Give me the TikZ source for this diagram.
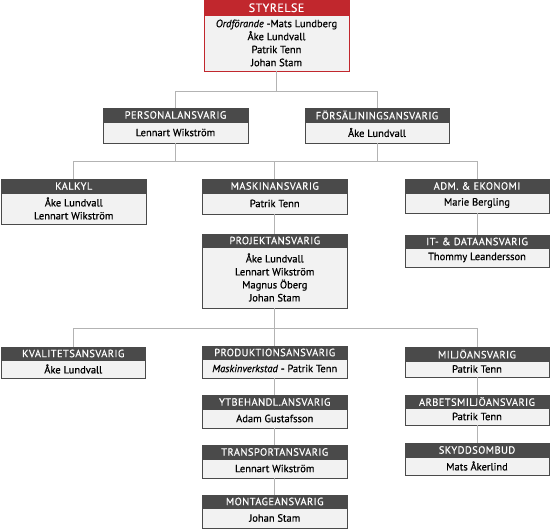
\documentclass[tikz,border=0pt]{standalone}
\usepackage{fontspec}
\setmainfont{PT Sans}[FakeBold=0.6]
\newfontfamily\hdrfont{PT Sans}[LetterSpace=4,FakeBold=0.4]
\definecolor{hdrc}{HTML}{4A4A4A}
\definecolor{bodyc}{HTML}{F2F2F2}
\definecolor{redc}{HTML}{C1272D}
\definecolor{linec}{HTML}{B3B3B3}
\tikzset{
  hdr/.style={inner sep=0pt, outer sep=0pt, anchor=north west, text=white,
    font=\hdrfont\fontsize{10.5}{12}\selectfont, line width=0.8pt},
  bodybox/.style={fill=bodyc, inner sep=0pt, outer sep=0pt, anchor=north west,
    align=center, font=\fontsize{10.5}{13}\selectfont, line width=0.8pt},
  conn/.style={draw=linec, line width=0.9pt},
}
% #1 name, #2 left, #3 right, #4 top, #5 header bottom, #6 bottom, #7 header, #8 body, #9 colour
\newcommand\orgunit[9]{%
  \node[hdr, draw=#9, fill=#9, minimum width={(#3-#2)*1pt}, minimum height={(#5-#4)*1pt}] (#1-h) at (#2,#4) {#7};
  \node[bodybox, draw=#9, minimum width={(#3-#2)*1pt}, minimum height={(#6-#5)*1pt}] (#1) at (#2,#5) {#8};
}
\begin{document}
\begin{tikzpicture}[x=1pt,y=-1pt]
\useasboundingbox (0,0) rectangle (550,529);
\coordinate (bar1) at (0,91.5);
\coordinate (bar2) at (0,161.5);
\coordinate (bar3) at (0,328);

\orgunit{sty}{204}{349}{0.5}{15}{71}{\fontsize{12}{12}\selectfont STYRELSE}{\textit{Ordförande} -Mats Lundberg\\Åke Lundvall\\Patrik Tenn\\Johan Stam}{redc}

\orgunit{pers}{103}{248}{108}{122}{143}{PERSONALANSVARIG}{Lennart Wikström}{hdrc}
\orgunit{fors}{305}{449}{108}{122}{143}{FÖRSÄLJNINGSANSVARIG}{Åke Lundvall}{hdrc}

\orgunit{kalk}{1.5}{146}{179}{193}{224}{KALKYL}{Åke Lundvall\\Lennart Wikström}{hdrc}
\orgunit{mask}{202.5}{347}{179}{193}{214}{MASKINANSVARIG}{Patrik Tenn}{hdrc}
\orgunit{adm}{405}{549}{179}{193}{213}{ADM. \& EKONOMI}{Marie Bergling}{hdrc}
\orgunit{it}{405}{549}{235}{248}{267}{IT- \& DATAANSVARIG}{Thommy Leandersson}{hdrc}
\orgunit{proj}{202.5}{347}{234}{247}{308}{PROJEKTANSVARIG}{Åke Lundvall\\Lennart Wikström\\Magnus Öberg\\Johan Stam}{hdrc}

\orgunit{kval}{1.5}{145}{347}{360}{378}{KVALITETSANSVARIG}{Åke Lundvall}{hdrc}
\orgunit{prod}{202.5}{347}{346}{359}{378}{PRODUKTIONSANSVARIG}{\textit{Maskinverkstad} - Patrik Tenn}{hdrc}
\orgunit{milj}{405}{549}{347}{361}{377}{MILJÖANSVARIG}{Patrik Tenn}{hdrc}
\orgunit{ytb}{202.5}{347}{395}{409}{428}{YTBEHANDL.ANSVARIG}{Adam Gustafsson}{hdrc}
\orgunit{arb}{405}{549}{395}{408}{425}{ARBETSMILJÖANSVARIG}{Patrik Tenn}{hdrc}
\orgunit{trans}{202.5}{347}{445}{459}{478}{TRANSPORTANSVARIG}{Lennart Wikström}{hdrc}
\orgunit{skydd}{405}{549}{443}{457}{475}{SKYDDSOMBUD}{Mats Åkerlind}{hdrc}
\orgunit{mont}{202.5}{347}{495}{508}{528}{MONTAGEANSVARIG}{Johan Stam}{hdrc}

\draw[conn] (sty.south) -- (sty.south |- bar1);
\draw[conn] (pers-h.north) -- (pers-h.north |- bar1) -- (fors-h.north |- bar1) -- (fors-h.north);
\draw[conn] (pers.south) -- (pers.south |- bar2);
\draw[conn] (fors.south) -- (fors.south |- bar2);
\draw[conn] (kalk-h.north) -- (kalk-h.north |- bar2) -- (adm-h.north |- bar2) -- (adm-h.north);
\draw[conn] (mask-h.north) -- (mask-h.north |- bar2);
\draw[conn] (mask.south) -- (proj-h.north);
\draw[conn] (adm.south) -- (it-h.north);
\draw[conn] (proj.south) -- (proj.south |- bar3);
\draw[conn] (kval-h.north) -- (kval-h.north |- bar3) -- (milj-h.north |- bar3) -- (milj-h.north);
\draw[conn] (prod-h.north) -- (prod-h.north |- bar3);
\draw[conn] (prod.south) -- (ytb-h.north);
\draw[conn] (ytb.south) -- (trans-h.north);
\draw[conn] (trans.south) -- (mont-h.north);
\draw[conn] (milj.south) -- (arb-h.north);
\draw[conn] (arb.south) -- (skydd-h.north);
\end{tikzpicture}
\end{document}
